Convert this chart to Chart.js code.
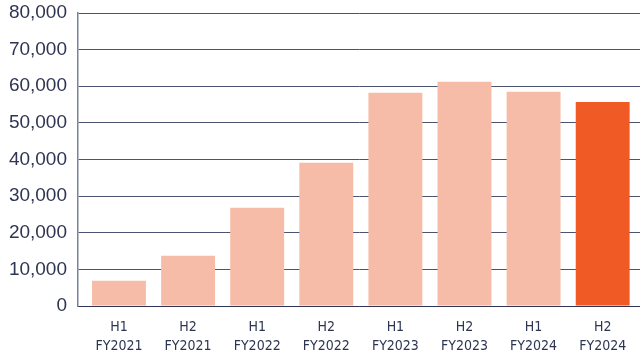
<!DOCTYPE html>
<html>
<head>
<meta charset="utf-8">
<script src="https://cdn.jsdelivr.net/npm/chart.js@4.4.1/dist/chart.umd.min.js"></script>
<style>
  html, body { margin: 0; padding: 0; background: #ffffff; }
  #wrap { width: 640px; height: 356px; position: relative; }
</style>
</head>
<body>
<div id="wrap"><canvas id="chart"></canvas></div>
<script>
// Half-year periods and their values
const periods = ['H1', 'H2', 'H1', 'H2', 'H1', 'H2', 'H1', 'H2'];
const fiscalYears = ['FY2021', 'FY2021', 'FY2022', 'FY2022', 'FY2023', 'FY2023', 'FY2024', 'FY2024'];
const values = [6900, 13700, 26800, 39100, 58200, 61200, 58500, 55700];
const yTicks = [0, 10000, 20000, 30000, 40000, 50000, 60000, 70000, 80000];

const PALE = '#f7bca7';
const STRONG = '#f05a25';
const TEXT = '#2e3553';
const GRID = '#4a5470';

const labels = periods.map((p, i) => [p, fiscalYears[i]]);
const points = values.map((v, i) => ({ x: i, y: v }));
const colors = values.map((_, i) => (i === values.length - 1 ? STRONG : PALE));

new Chart(document.getElementById('chart'), {
  type: 'bar',
  data: {
    datasets: [{
      data: points,
      backgroundColor: colors,
      borderWidth: 0,
      barPercentage: 0.78,
      categoryPercentage: 1.0
    }]
  },
  options: {
    responsive: true,
    maintainAspectRatio: false,
    animation: false,
    layout: { padding: { top: 13, right: 0, left: 0, bottom: 0 } },
    plugins: { legend: { display: false }, tooltip: { enabled: false } },
    scales: {
      x: {
        type: 'linear',
        offset: false,
        min: -0.593,
        max: 7.54,
        afterBuildTicks: (scale) => {
          scale.ticks = labels.map((_, i) => ({ value: i }));
        },
        afterFit: (scale) => { scale.height = 50; scale.paddingLeft = 0; scale.paddingRight = 0; },
        grid: { display: false },
        border: { display: true, color: TEXT, width: 1 },
        ticks: {
          autoSkip: false,
          maxRotation: 0,
          padding: 4,
          color: TEXT,
          font: { family: "'DejaVu Sans Condensed', 'Liberation Sans', Arial, sans-serif", size: 14, lineHeight: 1.35 },
          callback: (v) => labels[v]
        }
      },
      y: {
        min: 0,
        max: 80000,
        afterBuildTicks: (scale) => {
          scale.ticks = yTicks.map((v) => ({ value: v }));
        },
        afterFit: (scale) => { scale.width = 78; scale.paddingTop = 0; scale.paddingBottom = 0; },
        grid: { color: GRID, lineWidth: 1, drawTicks: false },
        border: { display: true, color: '#7a8296', width: 1.5 },
        ticks: {
          padding: 11,
          color: TEXT,
          font: { family: "'Liberation Sans', Arial, sans-serif", size: 19 },
          callback: (v) => v.toLocaleString('en-US')
        }
      }
    }
  }
});
</script>
</body>
</html>
